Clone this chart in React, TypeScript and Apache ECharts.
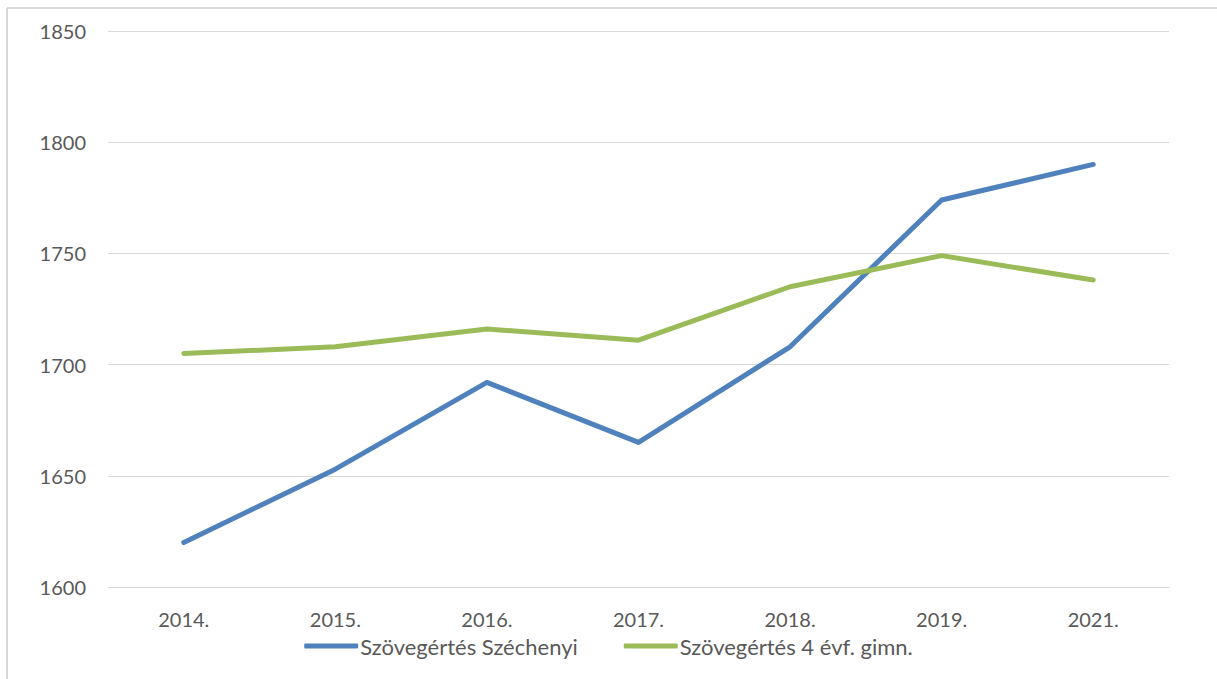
import React, { useEffect, useRef } from "react";
import * as echarts from "echarts";

const categories = ["2014.", "2015.", "2016.", "2017.", "2018.", "2019.", "2021."];
const szechenyi = [1620, 1653, 1692, 1665, 1708, 1774, 1790];
const gimn = [1705, 1708, 1716, 1711, 1735, 1749, 1738];
const seriesNames = ["Szövegértés Széchenyi", "Szövegértés 4 évf. gimn."];

export default function App() {
  const ref = useRef<HTMLDivElement>(null);
  useEffect(() => {
    document.body.style.margin = "0";
    const chart = echarts.init(ref.current!, null, { renderer: "svg" });
    const font = "Lato, 'Open Sans', sans-serif";
    chart.setOption({
      animation: false,
      textStyle: { fontFamily: font },
      grid: { left: 108, right: 48, top: 31, bottom: 92 },
      graphic: [
        { type: "line", shape: { x1: 7, y1: 8, x2: 7, y2: 679 }, style: { stroke: "#d9d9d9", lineWidth: 2 } },
        { type: "line", shape: { x1: 7, y1: 8, x2: 1217, y2: 8 }, style: { stroke: "#d9d9d9", lineWidth: 2 } },
      ],
      legend: {
        bottom: 17,
        left: "center",
        itemWidth: 54,
        itemHeight: 5,
        itemGap: 46,
        icon: "roundRect",
        textStyle: { fontSize: 22, color: "#595959", fontFamily: font, padding: [0, 0, 0, -3] },
        data: seriesNames,
      },
      xAxis: {
        type: "category",
        data: categories,
        boundaryGap: true,
        axisLine: { show: true, lineStyle: { color: "#d9d9d9", width: 1 } },
        axisTick: { show: false },
        axisLabel: { color: "#595959", fontSize: 20, margin: 22, fontFamily: font },
      },
      yAxis: {
        type: "value",
        min: 1600,
        max: 1850,
        interval: 50,
        axisLine: { show: false },
        axisTick: { show: false },
        splitLine: { lineStyle: { color: "#d9d9d9", width: 1 } },
        axisLabel: { color: "#595959", fontSize: 20, margin: 22, fontFamily: font, formatter: (v: number) => String(v) },
      },
      series: [
        {
          name: seriesNames[0],
          type: "line",
          data: szechenyi,
          showSymbol: false,
          symbol: "none",
          lineStyle: { color: "#4f81bd", width: 5, cap: "round", join: "round" },
          itemStyle: { color: "#4f81bd" },
        },
        {
          name: seriesNames[1],
          type: "line",
          data: gimn,
          showSymbol: false,
          symbol: "none",
          lineStyle: { color: "#9bbb59", width: 5, cap: "round", join: "round" },
          itemStyle: { color: "#9bbb59" },
        },
      ],
    });
    return () => chart.dispose();
  }, []);
  return <div ref={ref} style={{ width: 1217, height: 679 }} />;
}
